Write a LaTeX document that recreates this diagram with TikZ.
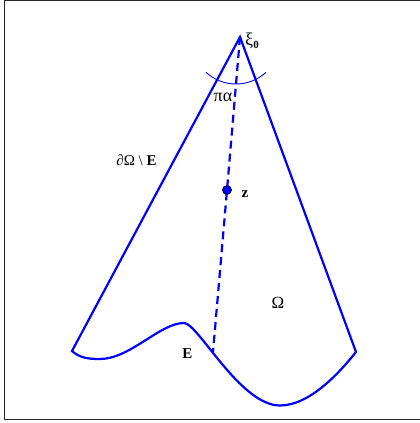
\documentclass[tikz,border=0pt]{standalone}
\usepackage{fontspec}
\setmainfont{Liberation Serif}
\begin{document}
\begin{tikzpicture}[x=1pt,y=-1pt,
  edge/.style={blue,line width=2.2pt,line join=miter},
  dashline/.style={blue,line width=2.2pt,dash pattern=on 8pt off 5pt},
  anglearc/.style={blue,line width=0.9pt},
  dot/.style={circle,fill=blue,draw=black,line width=0.4pt,minimum size=9pt,inner sep=0pt},
  lbl/.style={inner sep=0pt,font=\fontsize{14}{16}\selectfont}]
\useasboundingbox (0,0) rectangle (420,423);
\draw[line width=1.3pt,black!85] (4.5,0.4) -- (4.5,419.6) -- (421,419.6);
\draw[line width=0.6pt,black!85] (4.5,0.3) -- (421,0.3);
\coordinate (apex) at (240,37);
\coordinate (L) at (72,351);
\coordinate (R) at (356,352);
\coordinate (foot) at (213,352);
\coordinate (arcc) at (236,39.7);
\node[dot] (z) at (227,190) {};
\draw[edge] (L) -- (apex) -- (R)
  .. controls (340,372) and (310,405.5) .. (280,405.5)
  .. controls (240,405.5) and (198,323) .. (184,323)
  .. controls (160,323) and (130,359) .. (100,359)
  .. controls (88,359) and (80,358) .. (L) -- cycle;
\draw[dashline] (apex) -- (z.center) -- (foot);
\node[dot] at (z) {};
\draw[anglearc] ([shift={(227.4:44.3pt)}]arcc) arc[start angle=227.4,end angle=312.6,radius=44.3pt];
\node[lbl,font=\fontsize{18}{20}\selectfont] (xi) at (252,41) {ξ\textbf{\raisebox{-0.4ex}{\fontsize{11}{12}\selectfont 0}}};
\node[lbl,font=\fontsize{18}{20}\selectfont] (pa) at (223,97.5) {πα};
\node[lbl,font=\fontsize{15}{17}\selectfont] (bd) at (136.5,160.5) {∂Ω \textbackslash{} \textbf{E}};
\node[lbl,font=\bfseries\fontsize{15}{17}\selectfont] (zl) at (245,194) {z};
\node[lbl,font=\fontsize{17}{19}\selectfont] (om) at (278,303) {Ω};
\node[lbl,font=\bfseries\fontsize{15}{17}\selectfont] (E) at (187.5,353.3) {E};
\end{tikzpicture}
\end{document}
